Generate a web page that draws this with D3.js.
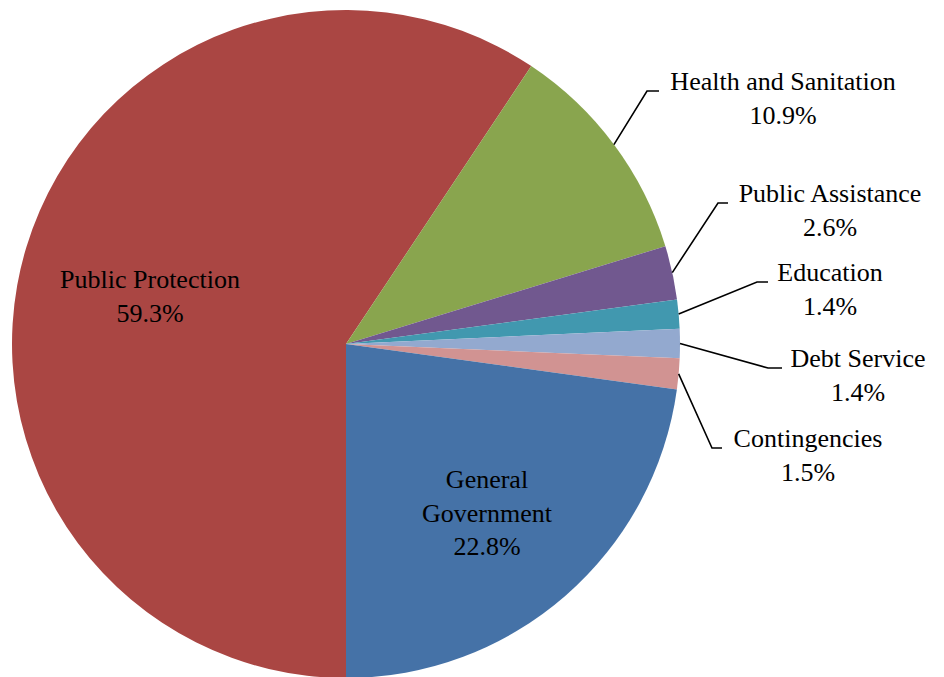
<!DOCTYPE html>
<html>
<head>
<meta charset="utf-8">
<script src="https://cdn.jsdelivr.net/npm/d3@7"></script>
<style>
  body { margin: 0; background: #fff; }
  text.label { font-family: "Liberation Serif", Tinos, "Times New Roman", Times, "DejaVu Serif", serif; font-size: 26px; fill: #000; }
</style>
</head>
<body>
<div class="piechart"></div>
<script>
var categories = ["Public Protection", "Health and Sanitation", "Public Assistance", "Education",
                  "Debt Service", "Contingencies", "General Government"];
var values = [59.3, 10.9, 2.6, 1.4, 1.4, 1.5, 22.8];
var colors = ["#AA4643", "#89A54E", "#71588F", "#4198AF", "#93A9CF", "#D19392", "#4572A7"];

// label layout: text centre x, first line y (middle), and leader bend point (null = inside label)
var labelPos = [
  {x: 150, y: 279, lines: ["Public Protection"]},
  {x: 783, y: 81, bend: [647, 91], end: 659, lines: ["Health and Sanitation"]},
  {x: 830, y: 193, bend: [718, 203], end: 728, lines: ["Public Assistance"]},
  {x: 830, y: 272, bend: [757, 282], end: 768, lines: ["Education"]},
  {x: 858, y: 358, bend: [768, 368], end: 782, lines: ["Debt Service"]},
  {x: 808, y: 438, bend: [712, 448], end: 722, lines: ["Contingencies"]},
  {x: 487, y: 479, lines: ["General", "Government"]}
];

var width = 944, height = 677,
    cx = 346, cy = 344, radius = 334,
    lineH = 33.5;

var data = categories.map(function (c, i) {
  return {name: c, value: values[i], color: colors[i], pos: labelPos[i]};
});

var pie = d3.pie()
  .sort(null)
  .value(function (d) { return d.value; })
  .startAngle(Math.PI)
  .endAngle(3 * Math.PI);

var arc = d3.arc()
  .innerRadius(0)
  .outerRadius(radius);

var svg = d3.select(".piechart").append("svg")
    .attr("width", width)
    .attr("height", height);

var g = svg.append("g")
    .attr("transform", "translate(" + cx + "," + cy + ")");

var arcs = pie(data);

g.selectAll("path.slice")
  .data(arcs)
  .enter().append("path")
    .attr("class", "slice")
    .attr("d", arc)
    .attr("fill", function (d) { return d.data.color; });

// leader lines
svg.selectAll("path.leader")
  .data(arcs.filter(function (d) { return d.data.pos.bend; }))
  .enter().append("path")
    .attr("class", "leader")
    .attr("fill", "none")
    .attr("stroke", "#000")
    .attr("stroke-width", 1.6)
    .attr("d", function (d) {
      var a = (d.startAngle + d.endAngle) / 2,
          x0 = cx + radius * Math.sin(a),
          y0 = cy - radius * Math.cos(a),
          b = d.data.pos.bend;
      return "M" + x0 + "," + y0 + "L" + b[0] + "," + b[1] + "L" + d.data.pos.end + "," + b[1];
    });

// labels
var labels = svg.selectAll("text.label")
  .data(arcs)
  .enter().append("text")
    .attr("class", "label")
    .attr("text-anchor", "middle");

labels.each(function (d) {
  var t = d3.select(this),
      p = d.data.pos,
      lines = p.lines.concat([d3.format(".1f")(d.data.value) + "%"]);
  lines.forEach(function (l, i) {
    t.append("tspan")
      .attr("x", p.x)
      .attr("y", p.y + i * lineH)
      .attr("dy", "0.35em")
      .text(l);
  });
});
</script>
</body>
</html>
